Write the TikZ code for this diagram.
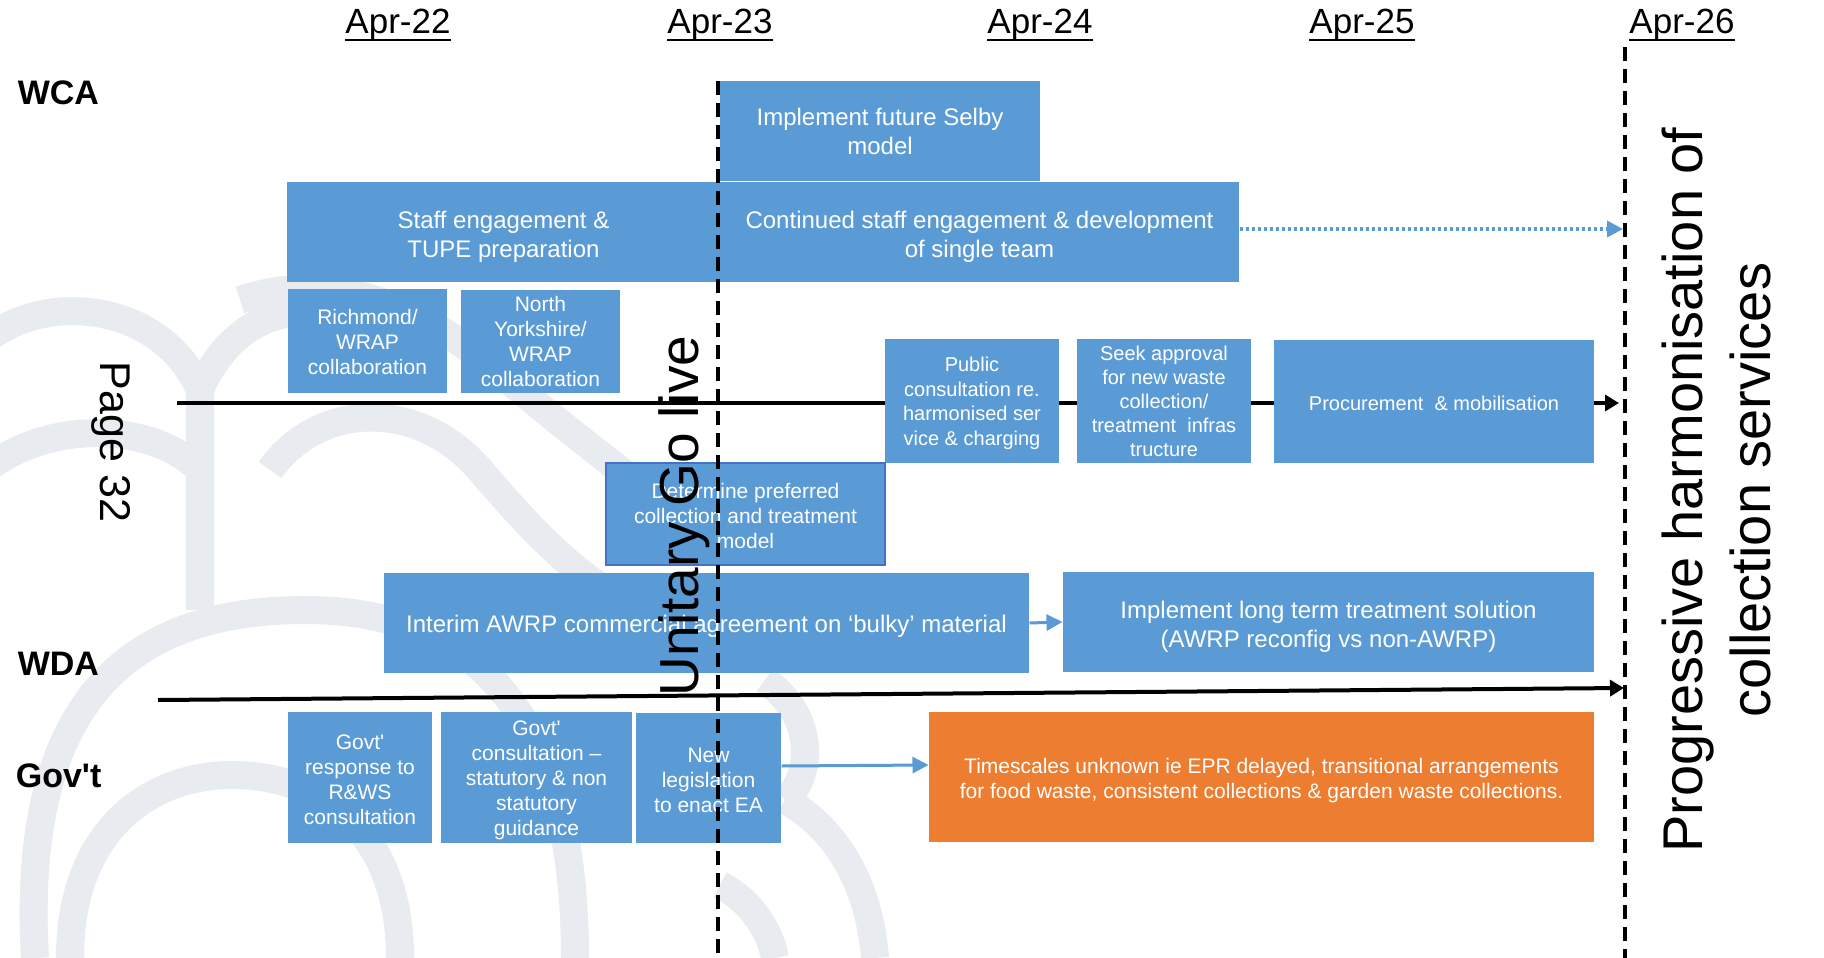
\documentclass[tikz,border=0pt]{standalone}
\usepackage{fontspec}
\setmainfont{Liberation Sans}[Ligatures=TeXOff]
\usepackage{xcolor}
\usetikzlibrary{arrows.meta}

\definecolor{boxblue}{HTML}{5B9BD5}
\definecolor{boxorange}{HTML}{ED7D31}
\definecolor{edgeblue}{HTML}{4472C4}
\definecolor{logogrey}{RGB}{232,235,240}

\newcommand{\fs}[2]{\fontsize{#1}{#2}\selectfont}
\newcommand{\up}[1]{\rule{0pt}{\dimexpr 0.75em+#1pt\relax}}
\newcommand{\monthtext}[1]{\setbox0=\hbox{#1}\rlap{\rule[-7.5pt]{\wd0}{2.5pt}}\box0}

\begin{document}
\begin{tikzpicture}[x=1pt, y=-1pt, line width=1pt,
    task/.style n args={2}{fill=boxblue, text=white, align=center, inner sep=0pt,
        minimum width=#1, minimum height=#2},
    month/.style={anchor=base, font=\fs{35}{42}},
    lane/.style={anchor=base west, font=\bfseries\fs{34}{40}},
    timeline/.style={line width=4pt, -{Triangle[length=14pt, width=16pt]}},
    golive/.style={line width=3.5pt, dash pattern=on 14pt off 8pt},
    flow/.style={draw=boxblue, line width=3pt, -{Triangle[length=16pt, width=16pt]}}]

    % page and background logo
    \fill[white] (0,0) rectangle (1824,958);
    \useasboundingbox (0,0) rectangle (1824,958);
    \begin{scope}[draw=logogrey, line width=28pt]
        \draw (-20,345) .. controls (40,290) and (160,300) .. (200,390);
        \draw (200,390) .. controls (230,320) and (290,300) .. (340,320);
        \draw (200,390) -- (200,610);
        \draw (-20,475) .. controls (40,420) and (150,420) .. (200,470);
        \draw (240,300) .. controls (330,270) and (420,300) .. (520,390) .. controls (580,440) and (620,470) .. (660,500);
        \draw (270,470) .. controls (320,400) and (420,400) .. (480,470) .. controls (540,540) and (580,580) .. (640,610);
        \draw (35,958) .. controls (20,700) and (130,610) .. (305,610) .. controls (480,610) and (575,720) .. (575,958);
        \draw (70,958) .. controls (70,830) and (150,775) .. (232,775) .. controls (320,775) and (400,830) .. (400,958);
        \draw (765,680) .. controls (820,720) and (810,780) .. (785,800);
        \draw (785,800) .. controls (840,830) and (870,890) .. (875,958);
        \draw (720,885) .. controls (750,900) and (770,930) .. (775,958);
    \end{scope}

    % lane lines
    \coordinate (wcastart) at (177,403);
    \coordinate (wcaend) at (1619,403);
    \coordinate (wdastart) at (158,700);
    \coordinate (wdaend) at (1624,688);
    \draw[timeline] (wcastart) -- (wcaend);
    \draw[timeline] (wdastart) -- (wdaend);

    % WCA boxes
    \node[task={320}{100}, font=\fs{24}{29}] (selby) at (880,131) {Implement future Selby\\model};
    \node[task={433}{100}, font=\fs{24}{29}] (staff) at (503.5,232) {\up{8}Staff engagement \&\\TUPE preparation};
    \node[task={519}{100}, font=\fs{24}{29}] (cont) at (979.5,232) {\up{8}Continued staff engagement \& development\\of single team};
    \node[task={159}{104}, font=\fs{21}{25}] (richmond) at (367.5,341) {\up{2}Richmond/\\WRAP\\collaboration};
    \node[task={159}{103}, font=\fs{21}{25}] (nyorks) at (540.5,341.5) {North\\Yorkshire/\\WRAP\\collaboration};
    \node[task={174}{124}, font=\fs{20}{24.5}] (public) at (972,401) {\up{4}Public\\consultation re.\\harmonised ser\\vice \& charging};
    \node[task={174}{124}, font=\fs{20}{24}] (seek) at (1164,401) {Seek approval\\for new waste\\collection/\\treatment\ \ infras\\tructure};
    \node[task={320}{123}, font=\fs{20}{24}] (procure) at (1434,401.5) {\up{3}Procurement\ \ \& mobilisation};
    \node[task={279}{102}, draw=edgeblue, line width=2.5pt, font=\fs{21}{25}] (determine) at (745.5,514) {\up{4}Determine preferred\\collection and treatment\\model};

    % WDA boxes
    \node[task={645}{100}, font=\fs{24}{29}] (interim) at (706.5,623) {\up{5}Interim AWRP commercial agreement on ‘bulky’ material};
    \node[task={531}{100}, font=\fs{24}{29}] (longterm) at (1328.5,622) {\up{8}Implement long term treatment solution\\(AWRP reconfig vs non-AWRP)};

    % Gov't boxes
    \node[task={144}{131}, font=\fs{21}{25}] (govresp) at (360,777.5) {\up{4}Govt'\\response to\\R\&WS\\consultation};
    \node[task={191}{131}, font=\fs{21}{25}] (govcons) at (536.5,777.5) {\up{4}Govt'\\consultation –\\statutory \& non\\statutory\\guidance};
    \node[task={145}{130}, font=\fs{21}{25}] (newleg) at (708.5,778) {\up{4}New\\legislation\\to enact EA};
    \node[task={665}{130}, fill=boxorange, font=\fs{21}{25.5}] (unknown) at (1261.5,777) {\up{7}Timescales unknown ie EPR delayed, transitional arrangements\\for food waste, consistent collections \& garden waste collections.};

    % arrows between boxes
    \coordinate (harmend) at (1623,229);
    \draw[flow, line width=3.5pt, dash pattern=on 3.5pt off 2.5pt] ([yshift=3pt]cont.east) -- (harmend);
    \draw[flow] (interim.east) -- (longterm.west);
    \draw[flow] ([yshift=12pt]newleg.east) -- ([yshift=12pt]unknown.west);

    % go live and end markers
    \coordinate (golivetop) at (718,81);
    \coordinate (golivebot) at (718,958);
    \coordinate (endtop) at (1625,47);
    \coordinate (endbot) at (1625,958);
    \draw[golive] (golivetop) -- (golivebot);
    \draw[golive] (endtop) -- (endbot);

    % months
    \node[month] (apr22) at (398,34) {\monthtext{Apr-22}};
    \node[month] (apr23) at (720,34) {\monthtext{Apr-23}};
    \node[month] (apr24) at (1040,34) {\monthtext{Apr-24}};
    \node[month] (apr25) at (1362,34) {\monthtext{Apr-25}};
    \node[month] (apr26) at (1682,34) {\monthtext{Apr-26}};

    % lanes
    \node[lane] (wca) at (14,104) {WCA};
    \node[lane] (wda) at (14,675) {WDA};
    \node[lane] (govt) at (12,787) {Gov't};

    % rotated texts
    \node[rotate=-90, anchor=base west, font=\fs{43}{52}] (pagenum) at (100,358) {Page 32};
    \node[rotate=90, anchor=base west, font=\fs{55}{66}] (golivetext) at (698,700) {Unitary Go live};
    \node[rotate=90, align=center, font=\fs{56}{68}] (harmtext) at (1716,490) {Progressive harmonisation of\\collection services};
\end{tikzpicture}
\end{document}
